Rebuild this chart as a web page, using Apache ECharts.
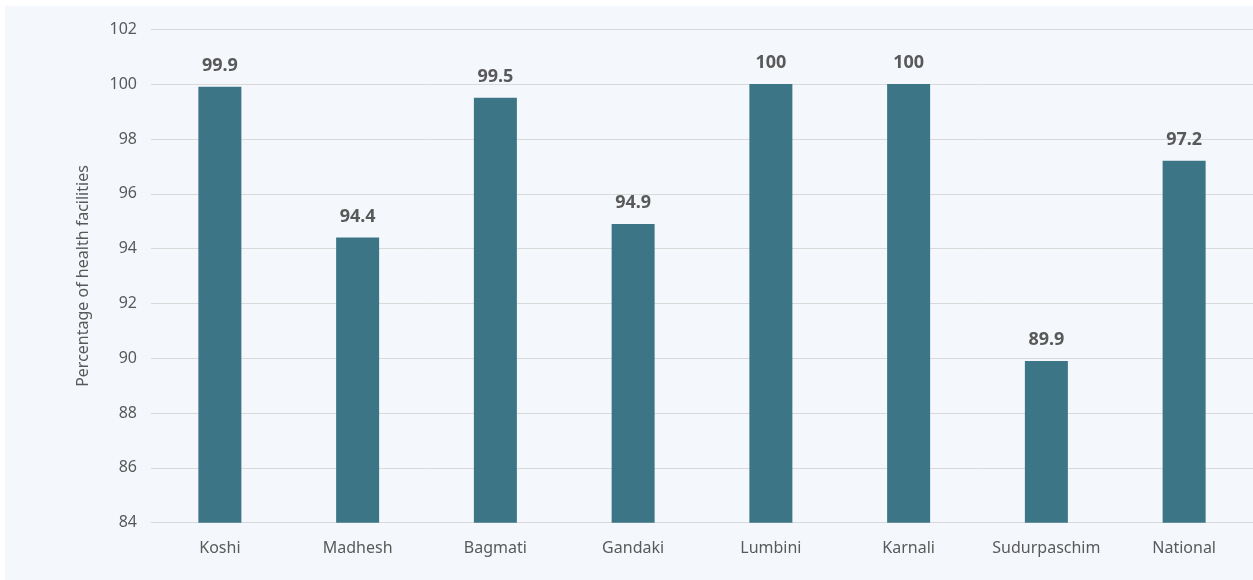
<!DOCTYPE html>
<html>
<head>
<meta charset="utf-8">
<script src="https://cdn.jsdelivr.net/npm/echarts@6/dist/echarts.min.js"></script>
<style>
html,body{margin:0;padding:0;background:#ffffff;}
#panel{position:absolute;left:5px;top:6px;width:1248px;height:574px;background:#f4f8fd;}
#chart{width:1248px;height:574px;}
</style>
</head>
<body>
<div id="panel"><div id="chart"></div></div>
<script>
const categories = ['Koshi','Madhesh','Bagmati','Gandaki','Lumbini','Karnali','Sudurpaschim','National'];
const values = [99.9, 94.4, 99.5, 94.9, 100, 100, 89.9, 97.2];
const yTitle = 'Percentage of health facilities';

const chart = echarts.init(document.getElementById('chart'), null, {renderer:'canvas'});
const font = '"Noto Sans", sans-serif';
chart.setOption({
  animation:false,
  grid:{left:146, top:23.3, width:1105, height:493.4, containLabel:false},
  xAxis:{
    type:'category',
    data:categories,
    axisLine:{show:true, lineStyle:{color:'#d9d9d9', width:1}},
    axisTick:{show:false},
    axisLabel:{interval:0, color:'#595959', fontSize:16, fontFamily:font, margin:18}
  },
  yAxis:{
    type:'value',
    min:84, max:102, interval:2,
    name:yTitle,
    nameLocation:'middle',
    nameGap:60,
    nameTextStyle:{color:'#595959', fontSize:16, fontFamily:font},
    axisLine:{show:false},
    axisTick:{show:false},
    axisLabel:{color:'#595959', fontSize:16, fontFamily:font, margin:14},
    splitLine:{lineStyle:{color:'#d9d9d9', width:1}}
  },
  series:[{
    type:'bar',
    data:values,
    barWidth:43,
    itemStyle:{color:'#3c7686'},
    label:{show:true, position:'top', distance:12, color:'#595959', fontSize:18, fontWeight:'bold', fontFamily:font}
  }]
});
</script>
</body>
</html>
